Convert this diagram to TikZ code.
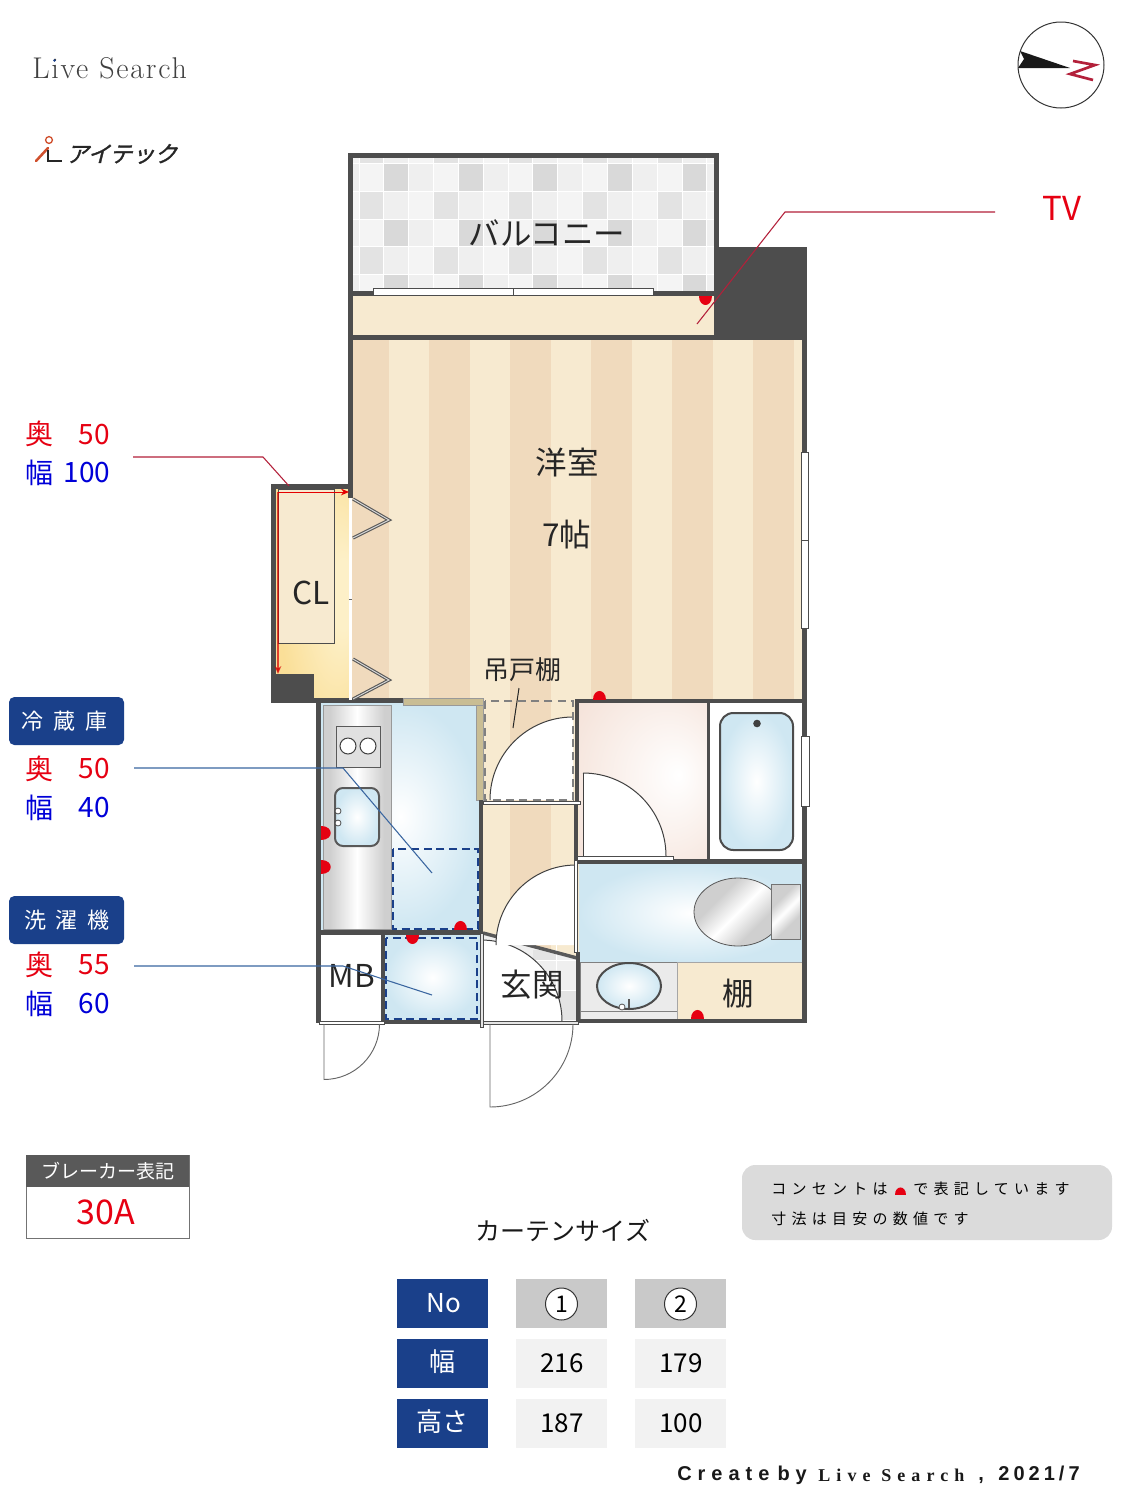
\documentclass[tikz,border=0pt]{standalone}
\usepackage{fontspec}
\usetikzlibrary{arrows.meta}
\setmainfont{Noto Sans CJK JP}
\newfontfamily\lmfont[LetterSpace=6]{Latin Modern Roman}
\newfontfamily\spacedcjk[LetterSpace=35]{Noto Sans CJK JP}
\newfontfamily\logofont[FakeSlant=0.25,FakeBold=1.5]{Noto Sans CJK JP}
\newfontfamily\footfont[LetterSpace=20]{Liberation Sans Bold}
\newfontfamily\footwide[LetterSpace=30]{Liberation Sans Bold}
\newfontfamily\footserif[LetterSpace=34]{Liberation Serif Bold}
\newcommand{\fpx}[1]{\pgfmathsetmacro\tmpfs{#1*0.75}\fontsize{\tmpfs}{\tmpfs}\selectfont}
\definecolor{wallc}{HTML}{4D4D4D}
\definecolor{stripeD}{HTML}{F0DABD}
\definecolor{stripeL}{HTML}{F7EAD0}
\definecolor{floorblue}{HTML}{CFE7F2}
\definecolor{navy}{HTML}{1A408A}
\definecolor{redtxt}{HTML}{E60012}
\definecolor{bluetxt}{HTML}{0000D8}
\definecolor{leadred}{HTML}{B3203A}
\definecolor{leadblue}{HTML}{3A66A0}
\definecolor{tan}{HTML}{C9BD94}
\definecolor{steel}{HTML}{CFCFCF}
\definecolor{tileA}{HTML}{F4F4F4}
\definecolor{tileB}{HTML}{D9D9D9}
\definecolor{tileC}{HTML}{EFEFEF}
\definecolor{tileD}{HTML}{E3E3E3}
\definecolor{pinkout}{HTML}{F5E3DA}
\definecolor{yellowout}{HTML}{FADF98}
\definecolor{yellowin}{HTML}{FDF0C8}
\definecolor{logored}{HTML}{D0502E}
\pgfdeclareradialshading{pinkroom}{\pgfpoint{14bp}{2bp}}{color(0bp)=(white);color(38bp)=(pinkout);color(60bp)=(pinkout)}
\pgfdeclareradialshading{closetglow}{\pgfpoint{24bp}{0bp}}{color(0bp)=(yellowin);color(8bp)=(yellowin);color(35bp)=(yellowout);color(70bp)=(yellowout)}
\pgfdeclarehorizontalshading{steelwide}{100bp}{color(0bp)=(steel);color(30bp)=(steel);color(50bp)=(white);color(70bp)=(steel);color(100bp)=(steel)}
\pgfdeclarehorizontalshading{steelband}{100bp}{color(0bp)=(steel);color(35bp)=(steel);color(50bp)=(white);color(65bp)=(steel);color(100bp)=(steel)}
\tikzset{
  wall/.style={fill=wallc,draw=none},
  bluefloor/.style={shading=radial,inner color=white,outer color=floorblue},
  redl/.style={inner sep=0pt,text=redtxt,font=\fpx{28}},
  bluel/.style={inner sep=0pt,text=bluetxt,font=\fpx{28}},
  roomtxt/.style={inner sep=0pt,text=black!85,font=\fpx{31.5}},
  headbox/.style={inner sep=0pt,text=white,font=\fpx{22}},
  cell/.style={inner sep=0pt,font=\fpx{26}},
  notetxt/.style={inner sep=0pt,anchor=west,text=black,font=\spacedcjk\fpx{15}},
  barw/.style={fill=white,draw=black!70,line width=0.75pt},
  socket/.style={fill=redtxt,draw=none},
  dashblue/.style={draw=navy,line width=1.5pt,dash pattern=on 6pt off 3.5pt},
}
\newcommand{\qdoor}[6]{%
  \pgfmathsetmacro\ya{#2+#5*#3}\pgfmathsetmacro\xb{#1+#4*#3}%
  \pgfmathsetmacro\xc{#1+#4*#3*0.5523}\pgfmathsetmacro\yc{#2+#5*#3*0.5523}%
  \path[#6] (#1,#2) -- (#1,\ya) .. controls (\xc,\ya) and (\xb,\yc) .. (\xb,#2);}
\newcommand{\qarcfill}[5]{%
  \pgfmathsetmacro\ya{#2+#5*#3}\pgfmathsetmacro\xb{#1+#4*#3}%
  \pgfmathsetmacro\xc{#1+#4*#3*0.5523}\pgfmathsetmacro\yc{#2+#5*#3*0.5523}%
  \fill[white] (#1,#2) -- (#1,\ya) .. controls (\xc,\ya) and (\xb,\yc) .. (\xb,#2) -- cycle;
  \draw[black!75,line width=0.75pt] (#1,\ya) .. controls (\xc,\ya) and (\xb,\yc) .. (\xb,#2);}
\newcommand{\sockU}[3]{\pgfmathsetmacro\xa{#1-#3}\pgfmathsetmacro\xb{#1+#3}\pgfmathsetmacro\yc{#2-1.85*#3}%
  \fill[socket] (\xa,#2) .. controls (\xa,\yc) and (\xb,\yc) .. (\xb,#2) -- cycle;}
\newcommand{\sockD}[3]{\pgfmathsetmacro\xa{#1-#3}\pgfmathsetmacro\xb{#1+#3}\pgfmathsetmacro\yc{#2+1.85*#3}%
  \fill[socket] (\xa,#2) .. controls (\xa,\yc) and (\xb,\yc) .. (\xb,#2) -- cycle;}
\newcommand{\sockR}[3]{\pgfmathsetmacro\ya{#2-#3}\pgfmathsetmacro\yb{#2+#3}\pgfmathsetmacro\xc{#1+1.85*#3}%
  \fill[socket] (#1,\ya) .. controls (\xc,\ya) and (\xc,\yb) .. (#1,\yb) -- cycle;}
\begin{document}
\begin{tikzpicture}[x=0.75pt,y=-0.75pt]
\useasboundingbox (0,0) rectangle (1125,1500);
\fill[white] (0,0) rectangle (1125,1500);

% ---------- header
\node[inner sep=0pt,anchor=west,text=black!75,font=\lmfont\fpx{30}] (livesearch) at (32,68) {Live Search};
\fill[navy] (54.5,60.5) circle (1.3);
\draw[logored,line width=1.9pt,line cap=round] (36,161) -- (48,148);
\draw[logored,line width=1pt] (49,140) circle (3.4);
\draw[black!85,line width=1.8pt] (48,150) -- (48,161) -- (62,161);
\node[inner sep=0pt,anchor=west,text=black!85,font=\logofont\fpx{22.5}] (logo) at (66,154) {アイテック};

% compass
\draw[black!80,line width=0.75pt] (1061,65) circle (43);
\fill[black!90] (1020,51) -- (1070,68) -- (1018,68) -- (1024,59) -- cycle;
\draw[leadred,line width=2pt] (1073,61) -- (1095,65) -- (1070,74) -- (1093,80);

% ---------- balcony
\fill[tileC] (353,158) rectangle (714,292);
\begin{scope}
\clip (353,158) rectangle (714,292);
\foreach \r in {0,...,5}{
  \foreach \c in {0,...,15}{
    \pgfmathsetmacro\xa{359-24.85+\c*24.85}
    \pgfmathsetmacro\ya{163.5-27.8+\r*27.8}
    \pgfmathtruncatemacro\k{mod(\c,3)}
    \pgfmathtruncatemacro\odd{mod(\r,2)}
    \ifnum\odd=1
      \ifnum\k=1 \def\cc{tileA}\fi
      \ifnum\k=2 \def\cc{tileB}\fi
      \ifnum\k=0 \def\cc{tileC}\fi
    \else
      \ifnum\k=1 \def\cc{tileD}\fi
      \ifnum\k=2 \def\cc{tileC}\fi
      \ifnum\k=0 \def\cc{tileA}\fi
    \fi
    \fill[\cc,draw=white,line width=0.75pt] (\xa,\ya) rectangle ++(24.85,27.8);
  }
}
\end{scope}
% strip under the balcony
\fill[stripeL] (353,296) rectangle (714,335);

% ---------- room stripes
\fill[stripeL] (353,340) rectangle (802,958);
\foreach \i in {0,...,5}{
  \pgfmathsetmacro\xa{348+\i*81}
  \pgfmathsetmacro\xb{389+\i*81}
  \fill[stripeD] (\xa,340) rectangle (\xb,958);
}
\fill[white] (316,703) rectangle (353,1030);

% ---------- closet
\path[shading=closetglow] (276,489) rectangle (349,700);
\fill[stripeL,draw=black!70,line width=0.6pt] (278,489) rectangle (334,643);

% ---------- kitchen
\path[bluefloor] (321,703) rectangle (480,930);
\path[shading=steelwide] (323,705) rectangle (391,929);
\draw[black!40,line width=0.6pt] (323,705) rectangle (391,929);
\fill[black!12,draw=black!65,line width=0.75pt] (336,726) rectangle (380,767);
\fill[white,draw=black!75,line width=0.75pt] (348,746) circle (8);
\fill[white,draw=black!75,line width=0.75pt] (368,746) circle (8);
\path[bluefloor,rounded corners=6pt] (335,788) rectangle (379,846);
\draw[black!65,line width=1.5pt,rounded corners=6pt] (335,788) rectangle (379,846);
\fill[white,draw=black!70,line width=0.6pt] (338,811) circle (3);
\fill[white,draw=black!70,line width=0.6pt] (338,823) circle (3);
\draw[dashblue] (393,849) rectangle (478,929);

% ---------- MB + washer
\fill[white] (320,935) rectangle (381,1020);
\path[bluefloor] (385,935) rectangle (480,1020);
\draw[dashblue] (386,938) rectangle (477,1019);

% ---------- entry hall / genkan
\fill[tileC] (483,933) -- (577,958) -- (577,1020) -- (483,1020) -- cycle;
\fill[tileD] (533,950) rectangle (556,960);
\fill[tileD] (556,990) rectangle (577,1020);
\draw[white,line width=0.75pt] (556,945) -- (556,1020) (530,960) -- (577,960) (530,990) -- (577,990);
\draw[black!65,line width=2.6pt] (483,933) -- (577,958);
\qarcfill{481}{1021}{81}{1}{-1}
\qarcfill{576}{945}{80}{-1}{-1}

% cupboard
\qarcfill{573}{800}{83}{-1}{-1}
\draw[black!50,line width=1.1pt,dash pattern=on 6pt off 4pt] (485,701) rectangle (573,800);

% ---------- washroom, bath
\path[shading=pinkroom] (579,703) rectangle (707,859);
\fill[white] (710,703) rectangle (803,859);
\path[bluefloor,rounded corners=10pt] (720,713) rectangle (793,850);
\draw[black!70,line width=1.5pt,rounded corners=10pt] (720,713) rectangle (793,850);
\fill[black!75] (757,723.5) circle (3.8);
\qarcfill{583}{856}{83}{1}{-1}
\draw[black!75,line width=0.75pt] (583,773) -- (583,856);

% ---------- toilet room
\path[bluefloor] (579,864) rectangle (803,962);
\path[shading=steelband,shading angle=-45] (738,912) ellipse (44 and 34);
\draw[black!65,line width=0.6pt] (738,912) ellipse (44 and 34);
\path[shading=steelband,shading angle=-45] (771,884) rectangle (800,939);
\draw[black!55,line width=0.6pt] (771,884) rectangle (800,939);
\fill[black!8,draw=black!50,line width=0.6pt] (580,962) rectangle (677,1019);
\draw[black!50,line width=0.6pt] (580,1011) -- (677,1011);
\path[bluefloor] (629,986) ellipse (32 and 23);
\draw[black!70,line width=1.5pt] (629,986) ellipse (32 and 23);
\draw[black!65,line width=1.2pt] (629,999) -- (629,1008);
\fill[white,draw=black!65,line width=0.6pt] (622,1007) circle (3);
\fill[stripeL,draw=black!35,line width=0.4pt] (677,962) rectangle (803,1019);

% ---------- walls
\fill[wall] (348,153) rectangle (719,158);
\fill[wall] (348,153) rectangle (353,498);
\fill[wall] (714,153) rectangle (719,340);
\fill[wall] (348,291) rectangle (719,296);
\fill[wall] (348,335) rectangle (807,340);
\fill[wall] (714,247) rectangle (807,340);
\fill[wall] (802,340) rectangle (807,1023);
% closet walls
\fill[wall] (271,484) rectangle (352,489);
\fill[wall] (271,484) rectangle (276,703);
\fill[wall] (276,674) rectangle (314,703);
\fill[wall] (271,698) rectangle (403,703);
% kitchen walls
\fill[wall] (316,698) rectangle (321,1023);
\fill[tan,draw=black!40,line width=0.4pt] (403,698) rectangle (483,705);
\fill[tan,draw=black!40,line width=0.4pt] (476,705) rectangle (483,800);
\fill[wall] (479,800) rectangle (483,930);
\fill[wall] (316,930) rectangle (483,935);
\fill[wall] (381,930) rectangle (385,1023);
\fill[wall] (385,1020) rectangle (480,1024);
% right block walls
\fill[wall] (575,699) rectangle (807,703);
\fill[wall] (575,699) rectangle (579,801);
\fill[wall] (574,804) rectangle (578,860);
\fill[wall] (707,699) rectangle (710,864);
\fill[wall] (574,859) rectangle (807,864);
\fill[wall] (576,952) rectangle (580,1023);
\fill[wall] (576,1019) rectangle (807,1023);

% doors, bars and windows
\fill[barw] (373,288) rectangle (513,295);
\fill[barw] (513,288) rectangle (653,295);
\fill[white] (348.5,498) rectangle (352,700);
\draw[black!60,line width=0.5pt] (348.5,599) -- (352,599);
\fill[barw] (801,452) rectangle (808,540);
\fill[barw] (801,540) rectangle (808,628);
\fill[barw] (801,736) rectangle (809,806);
\fill[barw] (319,1021) rectangle (384,1024);
\fill[black!10,draw=black!70,line width=0.6pt] (483,1021) rectangle (578,1024);
\fill[barw] (483,801) rectangle (580,804);
\fill[barw] (577,856) rectangle (673,860);
\fill[barw] (574,860) rectangle (577,952);
\fill[black!10,draw=black!70,line width=0.6pt] (480,933) rectangle (483,1027);
% bifold
\foreach \ya/\yb/\yc in {499/520/538,659/680/699}{
  \draw[black!65,line width=2.4pt] (353,\ya) -- (389,\yb) -- (353,\yc);
  \draw[white!85!black,line width=0.7pt] (353,\ya) -- (389,\yb) -- (353,\yc);
}
% exterior doors
\qdoor{324}{1024}{55.5}{1}{1}{draw=black!60,line width=0.7pt}
\qdoor{490}{1024}{83}{1}{1}{draw=black!60,line width=0.7pt}

% sockets
\sockD{705}{296}{6.5}
\sockU{599}{700}{6.5}
\sockR{321}{833}{7}
\sockR{321}{867}{7}
\sockU{460}{930}{6.5}
\sockD{412}{935}{6.5}
\sockU{697}{1019}{6.5}

% closet arrows
\draw[red!90!black,line width=0.75pt,-{Stealth[length=6pt,width=5pt]}] (278,492) -- (349,492);
\draw[red!85!black,opacity=0.7,line width=0.9pt,-{Stealth[length=6pt,width=5pt]}] (278,492) -- (278,674);

% ---------- room labels
\node[roomtxt] (balcony) at (547,233) {バルコニー};
\node[roomtxt] (yoshitsu) at (567,463) {洋室};
\node[roomtxt] (jou) at (567,535) {7帖};
\node[roomtxt] (cl) at (311,593) {CL};
\node[inner sep=0pt,text=black!85,font=\fpx{26}] (tsuri) at (522,670) {吊戸棚};
\node[roomtxt] (mb) at (352,976) {MB};
\node[roomtxt] (genkan) at (532,985) {玄関};
\node[roomtxt] (tana) at (738,994) {棚};
\coordinate (tsuriA) at (519,688);
\coordinate (tsuriend) at (513,728);
\draw[black!85,line width=0.75pt] (tsuriA) -- (tsuriend);

% ---------- leaders
\node[inner sep=0pt,text=redtxt,font=\fpx{33}] (tv) at (1062,208) {TV};
\coordinate (tvA) at (995,212);\coordinate (tvB) at (785,212);\coordinate (tvC) at (697,324);
\draw[leadred,line width=0.8pt] (tvA) -- (tvB) -- (tvC);
\coordinate (clA) at (133,457);\coordinate (clB) at (263,457);\coordinate (clC) at (289,486);
\draw[leadred,line width=0.8pt] (clA) -- (clB) -- (clC);
\coordinate (frA) at (134,768);\coordinate (frB) at (343,768);\coordinate (frC) at (432,873);
\draw[leadblue,line width=0.8pt] (frA) -- (frB) -- (frC);
\coordinate (waA) at (134,966);\coordinate (waB) at (343,966);\coordinate (waC) at (432,995);
\draw[leadblue,line width=0.8pt] (waA) -- (waB) -- (waC);

% ---------- left labels
\node[redl] (cloku) at (40,434) {奥};
\node[redl] (cloku2) at (94,435) {50};
\node[bluel] (clhaba) at (40,473) {幅};
\node[bluel] (clhaba2) at (87,473) {100};

\node[rounded corners=4pt,fill=navy,minimum width=86.25pt,minimum height=36pt,inner sep=0pt] (frbox) at (66.5,721) {};
\node[headbox] (frt) at (64.5,721) {冷\hspace{7.5pt}蔵\hspace{7.5pt}庫};
\node[redl] (froku) at (40,769) {奥};
\node[redl] (froku2) at (94,769) {50};
\node[bluel] (frhaba) at (40,808) {幅};
\node[bluel] (frhaba2) at (94,808) {40};

\node[rounded corners=4pt,fill=navy,minimum width=86.25pt,minimum height=36pt,inner sep=0pt] (wabox) at (66.5,920) {};
\node[headbox] (wat) at (67,920) {洗\hspace{7.5pt}濯\hspace{7.5pt}機};
\node[redl] (waoku) at (40,965) {奥};
\node[redl] (waoku2) at (94,965) {55};
\node[bluel] (wahaba) at (40,1004) {幅};
\node[bluel] (wahaba2) at (94,1004) {60};

% ---------- breaker
\fill[white,draw=black!55,line width=0.75pt] (26,1155) rectangle (189,1238);
\fill[black!65] (26,1155) rectangle (189,1187);
\node[inner sep=0pt,text=white,font=\fpx{19}] (brk) at (107.5,1171) {ブレーカー表記};
\node[inner sep=0pt,text=redtxt,font=\fpx{34}] (brkv) at (106,1212) {30A};

% ---------- note
\fill[black!14,rounded corners=10pt] (742,1165) rectangle (1112,1240);
\node[notetxt] (n1) at (771,1189) {コンセントは};
\node[notetxt] (n2) at (913,1189) {で表記しています};
\node[notetxt] (n3) at (771,1219) {寸法は目安の数値です};
\sockU{900}{1195}{5.5}

% ---------- curtain table
\node[inner sep=0pt,text=black!90,font=\fpx{25}] (ctitle) at (563,1230) {カーテンサイズ};
\fill[navy] (397,1279) rectangle (488,1328);\fill[navy] (397,1339) rectangle (488,1388);\fill[navy] (397,1399) rectangle (488,1448);
\fill[black!21] (516,1279) rectangle (607,1328);\fill[black!21] (635,1279) rectangle (726,1328);
\fill[black!5] (516,1339) rectangle (607,1388);\fill[black!5] (635,1339) rectangle (726,1388);
\fill[black!5] (516,1399) rectangle (607,1448);\fill[black!5] (635,1399) rectangle (726,1448);
\node[cell,text=white] (tno) at (444,1303) {No};
\node[cell,text=white] (thaba) at (442.5,1362) {幅};
\node[cell,text=white] (ttaka) at (442.5,1422) {高さ};
\node[circle,draw=black!80,fill=white,line width=0.75pt,minimum size=24pt,inner sep=0pt,font=\fpx{23}] (t1) at (561.5,1304) {1};
\node[circle,draw=black!80,fill=white,line width=0.75pt,minimum size=24pt,inner sep=0pt,font=\fpx{23}] (t2) at (680.5,1304) {2};
\node[cell] (v11) at (562,1363) {216};
\node[cell] (v12) at (681,1363) {179};
\node[cell] (v21) at (562,1423) {187};
\node[cell] (v22) at (681,1423) {100};

% ---------- footer
\node[inner sep=0pt,anchor=west,text=black!90,font=\footwide\fpx{20}] (footA) at (677,1475) {Create\hspace{6pt}by};
\node[inner sep=0pt,anchor=west,text=black!90,font=\footserif\fpx{18}] (footB) at (818,1475) {Live Search};
\node[inner sep=0pt,anchor=west,text=black!90,font=\footfont\fpx{20}] (footC) at (978,1475) {,\hspace{11pt}2021/7};
\end{tikzpicture}
\end{document}
